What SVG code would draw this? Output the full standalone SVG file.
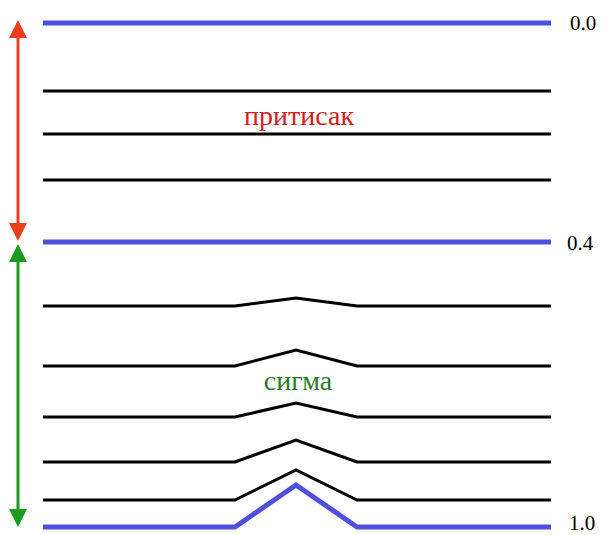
<svg xmlns="http://www.w3.org/2000/svg" width="604" height="535" viewBox="0 0 604 535">
<style>
.blue{stroke:#4f4fe0;stroke-width:5;fill:none}
.blk{stroke:#000;stroke-width:3;fill:none;stroke-linejoin:miter}
.num{font-family:"Liberation Serif",serif;font-size:21px;fill:#000}
.lbl{font-family:"Liberation Serif",serif;font-size:28px;text-anchor:middle}
</style>
<defs>
<marker id="ar" markerWidth="6" markerHeight="6" refX="5" refY="3" orient="auto-start-reverse" markerUnits="strokeWidth">
<path d="M0,0 L6,3 L0,6 Z" fill="#e8401c"/>
</marker>
<marker id="ag" markerWidth="6" markerHeight="6" refX="5" refY="3" orient="auto-start-reverse" markerUnits="strokeWidth">
<path d="M0,0 L6,3 L0,6 Z" fill="#1e9a1e"/>
</marker>
</defs>
<g id="connectors">
<line x1="18" y1="23" x2="18" y2="238" stroke="#e8401c" stroke-width="3" marker-start="url(#ar)" marker-end="url(#ar)"/>
<line x1="18" y1="247" x2="18" y2="524" stroke="#1e9a1e" stroke-width="3" marker-start="url(#ag)" marker-end="url(#ag)"/>
</g>
<g id="lines">
<line class="blue" x1="43" y1="23" x2="551" y2="23"/>
<line class="blk" x1="43" y1="91" x2="551" y2="91"/>
<line class="blk" x1="43" y1="134" x2="551" y2="134"/>
<line class="blk" x1="43" y1="180" x2="551" y2="180"/>
<line class="blue" x1="43" y1="242" x2="551" y2="242"/>
<polyline class="blk" points="43,306 235,306 296,298 357,306 551,306"/>
<polyline class="blk" points="43,366 235,366 296,350 357,366 551,366"/>
<polyline class="blk" points="43,417 235,417 296,403 357,417 551,417"/>
<polyline class="blk" points="43,462 235,462 296,440 357,462 551,462"/>
<polyline class="blk" points="43,500 235,500 296,470 357,500 551,500"/>
<polyline class="blue" points="43,527 235,527 296,485 357,527 551,527"/>
</g>
<g id="labels">
<text class="num" x="570" y="30">0.0</text>
<text class="num" x="567" y="250">0.4</text>
<text class="num" x="569" y="530">1.0</text>
<text class="lbl" x="299" y="125" fill="#d42020">притисак</text>
<text class="lbl" x="298" y="390" fill="#2a7a2a">сигма</text>
</g>
</svg>
